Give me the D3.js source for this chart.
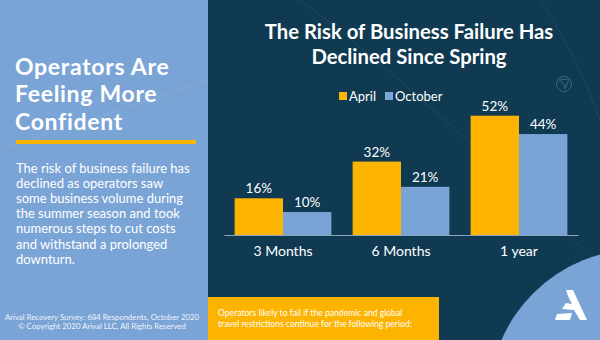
<!DOCTYPE html>
<html><head><meta charset="utf-8">
<script src="https://cdn.jsdelivr.net/npm/d3@7"></script>
<style>html,body{margin:0;padding:0;background:#0f3a52;}svg{display:block;font-family:Lato,"Open Sans",sans-serif;}</style>
</head><body><svg id="c" width="600" height="340"></svg>
<script>
const categories = ["3 Months", "6 Months", "1 year"];
const seriesNames = ["April", "October"];
const april = [16, 32, 52];
const october = [10, 21, 44];
const valueLabels = [["16%","32%","52%"],["10%","21%","44%"]];
const leftTitle = ["Operators Are", "Feeling More", "Confident"];
const leftBody = ["The risk of business failure has","declined as operators saw","some business volume during","the summer season and took","numerous steps to cut costs","and withstand a prolonged","downturn."];
const chartTitle = ["The Risk of Business Failure Has","Declined Since Spring"];
const footnote = ["Operators likely to fail if the pandemic and global","travel restrictions continue for the following period:"];
const source = ["Arival Recovery Survey: 684 Respondents, October 2020","© Copyright 2020 Arival LLC, All Rights Reserved"];

const C = {light:"#7ba4d6", dark:"#0f3a52", orange:"#fdb400", white:"#ffffff"};
const svg = d3.select("#c");

// panels
svg.append("rect").attr("width",600).attr("height",340).attr("fill",C.light);
svg.append("rect").attr("x",208).attr("y",0).attr("width",392).attr("height",340).attr("fill",C.dark);

// decorative faint lines
const deco = svg.append("g").attr("fill","none").attr("stroke","#ffffff").attr("stroke-opacity",0.07).attr("stroke-width",1);
deco.append("path").attr("d","M300,0 Q420,90 600,265");
deco.append("path").attr("d","M540,0 Q575,50 600,120");
deco.append("path").attr("d","M0,150 L208,80");
svg.append("clipPath").attr("id","cp").append("rect").attr("x",208).attr("width",392).attr("height",340);
svg.append("circle").attr("cx",640).attr("cy",400).attr("r",151).attr("fill",C.light).attr("clip-path","url(#cp)");

// small icon
const ic = svg.append("g").attr("fill","none").attr("stroke","#3a6580").attr("stroke-width",1);
ic.append("circle").attr("cx",564).attr("cy",84).attr("r",7.5);
ic.append("path").attr("d","M559,80 L569,79 L565,89 L564,84 Z");

// logo
svg.append("path").attr("fill","#fff").attr("d","M566,290 L573,290 L587,320 L580,320 L574,310 L562,309 L566,303 L572,304 L568,296 Z M557,314 L572,313 L570,320 L555,320 Z");

// left text
const lt = svg.append("g").attr("fill",C.white);
lt.selectAll("text.t").data(leftTitle).join("text").attr("class","t")
  .attr("x",15).attr("y",(d,i)=>74.5+i*27.7).attr("font-size",23).attr("letter-spacing",0.7)
  .attr("font-weight",700).text(d=>d);
svg.append("rect").attr("x",16).attr("y",140).attr("width",180).attr("height",4).attr("fill",C.orange);
lt.selectAll("text.b").data(leftBody).join("text").attr("class","b")
  .attr("x",16).attr("y",(d,i)=>172.5+i*15.2).attr("font-size",13).text(d=>d);
lt.selectAll("text.s").data(source).join("text").attr("class","s")
  .attr("x",102).attr("y",(d,i)=>320+i*8.5).attr("text-anchor","middle").attr("font-size",7.8).attr("fill-opacity",0.9).text(d=>d);

// chart title
svg.selectAll("text.ct").data(chartTitle).join("text").attr("class","ct")
  .attr("x",409).attr("y",(d,i)=>38.5+i*25).attr("text-anchor","middle")
  .attr("font-size",20.3).attr("font-weight",700).attr("fill",C.white).text(d=>d);

// legend
const colors = d3.scaleOrdinal().domain(seriesNames).range([C.orange, C.light]);
const lg = svg.append("g");
const legX = [339, 385];
seriesNames.forEach((s,i)=>{
  lg.append("rect").attr("x",legX[i]).attr("y",92).attr("width",8).attr("height",8).attr("fill",colors(s));
  lg.append("text").attr("x",legX[i]+10).attr("y",101).attr("font-size",13).attr("fill",C.white).text(s);
});

// bars
const x0 = d3.scaleBand().domain(categories).range([224,578]).paddingInner(0.18).paddingOuter(0.09);
const x1 = d3.scaleBand().domain(seriesNames).range([0,x0.bandwidth()]);
const y = d3.scaleLinear().domain([0,52]).range([235,115.7]);
const data = categories.map((c,i)=>({cat:c, vals:[{s:"April",v:april[i],l:valueLabels[0][i]},{s:"October",v:october[i],l:valueLabels[1][i]}]}));
const g = svg.append("g");
const grp = g.selectAll("g").data(data).join("g").attr("transform",d=>`translate(${x0(d.cat)},0)`);
grp.selectAll("rect").data(d=>d.vals).join("rect")
  .attr("x",d=>x1(d.s)).attr("y",d=>y(d.v)).attr("width",x1.bandwidth()).attr("height",d=>y(0)-y(d.v)).attr("fill",d=>colors(d.s));
grp.selectAll("text").data(d=>d.vals).join("text")
  .attr("x",d=>x1(d.s)+x1.bandwidth()/2).attr("y",d=>y(d.v)-5).attr("text-anchor","middle")
  .attr("font-size",13.5).attr("fill",C.white).text(d=>d.l);

// axis
const ax = svg.append("g").attr("transform","translate(0,235)").call(d3.axisBottom(x0).tickSize(0).tickPadding(11).tickSizeOuter(0));
ax.select(".domain").attr("stroke","#8aa6bb").attr("stroke-width",1);
ax.selectAll("text").attr("font-size",14).attr("fill",C.white).attr("font-family","Lato");

// footnote box
svg.append("rect").attr("x",208).attr("y",297).attr("width",231).attr("height",43).attr("fill",C.orange);
svg.selectAll("text.fn").data(footnote).join("text").attr("class","fn")
  .attr("x",218).attr("y",(d,i)=>316+i*11).attr("font-size",8.6).attr("fill",C.white).text(d=>d);
</script></body></html>
